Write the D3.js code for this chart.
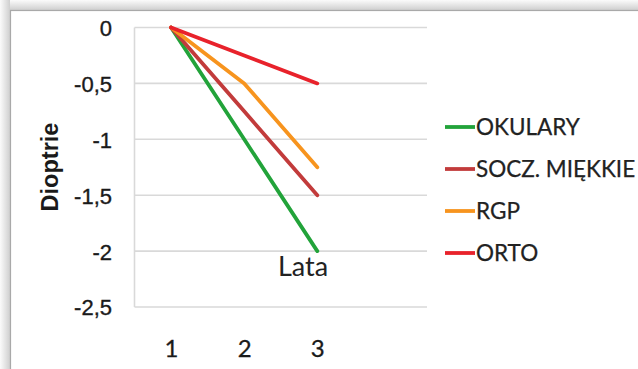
<!DOCTYPE html>
<html>
<head>
<meta charset="utf-8">
<script src="https://cdn.jsdelivr.net/npm/d3@7"></script>
<style>
html,body{margin:0;padding:0;background:#fff;}
svg{display:block;}
</style>
</head>
<body>
<svg id="chart" width="638" height="369"></svg>
<script>
const categories = ["1", "2", "3", ""];
const yTicks = [0, -0.5, -1, -1.5, -2, -2.5];
const seriesNames = ["OKULARY", "SOCZ. MIĘKKIE", "RGP", "ORTO"];
const seriesColors = ["#22a33a", "#c23b3b", "#f7941e", "#e8222b"];
const okulary = [0, -1, -2];
const soczMiekkie = [0, -0.75, -1.5];
const rgp = [0, -0.5, -1.25];
const orto = [0, -0.25, -0.5];
const seriesValues = [okulary, soczMiekkie, rgp, orto];

(function () {
const svg = d3.select("#chart");
const W = 638, H = 369;

// frame shadow
const defs = svg.append("defs");
const gTop = defs.append("linearGradient").attr("id", "shTop").attr("x1", 0).attr("y1", 0).attr("x2", 0).attr("y2", 1);
gTop.append("stop").attr("offset", "0%").attr("stop-color", "#fbfbfb");
gTop.append("stop").attr("offset", "100%").attr("stop-color", "#cfcfcf");
const gLeft = defs.append("linearGradient").attr("id", "shLeft").attr("x1", 0).attr("y1", 0).attr("x2", 1).attr("y2", 0);
gLeft.append("stop").attr("offset", "0%").attr("stop-color", "#fbfbfb");
gLeft.append("stop").attr("offset", "100%").attr("stop-color", "#cfcfcf");
svg.append("rect").attr("x", 0).attr("y", 0).attr("width", W).attr("height", 10).attr("fill", "url(#shTop)");
svg.append("rect").attr("x", 0).attr("y", 0).attr("width", 10).attr("height", H).attr("fill", "url(#shLeft)");
svg.append("rect").attr("x", 10.5).attr("y", 10.5).attr("width", W).attr("height", H).attr("fill", "#fff").attr("stroke", "#a9a9a9").attr("stroke-width", 1.2);

const pL = 134.5, pR = 427, pT = 27.5, pB = 307;
const x = d3.scalePoint().domain(categories.map((c, i) => i)).range([pL, pR]).padding(0.5);
const y = d3.scaleLinear().domain([-2.5, 0]).range([pB, pT]);

// gridlines
svg.append("g").selectAll("line").data(yTicks).join("line")
  .attr("x1", pL).attr("x2", pR)
  .attr("y1", d => y(d)).attr("y2", d => y(d))
  .attr("stroke", "#d9d9d9").attr("stroke-width", 1.6);
svg.append("line").attr("x1", pL).attr("x2", pL).attr("y1", pT).attr("y2", pB)
  .attr("stroke", "#d9d9d9").attr("stroke-width", 1.6);

// y axis labels
const fmt = d => (d === 0 ? "0" : String(d).replace(".", ","));
const yAxis = d3.axisLeft(y).tickValues(yTicks).tickFormat(fmt).tickSize(0).tickPadding(0);
const ya = svg.append("g").attr("transform", `translate(112,0)`).call(yAxis);
ya.select(".domain").remove();
ya.selectAll("text").attr("font-family", "'Liberation Sans', Arial, sans-serif").attr("font-size", 22)
  .attr("fill", "#1a1a1a").attr("stroke", "#1a1a1a").attr("stroke-width", 0.35).attr("dy", "0.36em");

// x axis labels
const xAxis = d3.axisBottom(x).tickFormat(i => categories[i]).tickSize(0).tickPadding(0);
const xa = svg.append("g").attr("transform", `translate(0,348)`).call(xAxis);
xa.select(".domain").remove();
xa.selectAll("text").attr("font-family", "Lato, 'Open Sans', sans-serif").attr("font-size", 24)
  .attr("fill", "#1a1a1a").attr("stroke", "#1a1a1a").attr("stroke-width", 0.3).attr("dy", "0.36em");

// axis title
svg.append("text").attr("transform", "translate(50,167) rotate(-90)")
  .attr("text-anchor", "middle").attr("dy", "0.36em")
  .attr("font-family", "'Liberation Sans', Arial, sans-serif").attr("font-weight", "bold").attr("font-size", 23.5)
  .attr("fill", "#1a1a1a").text("Dioptrie");

// lines
const line = d3.line().x((d, i) => x(i)).y(d => y(d));
svg.append("g").selectAll("path").data(seriesValues).join("path")
  .attr("d", d => line(d)).attr("fill", "none")
  .attr("stroke", (d, i) => seriesColors[i]).attr("stroke-width", 3.8)
  .attr("stroke-linejoin", "round").attr("stroke-linecap", "round");

// "Lata" label
svg.append("text").attr("x", 278).attr("y", 276)
  .attr("font-family", "Lato, 'Open Sans', sans-serif").attr("font-size", 27).attr("fill", "#222").text("Lata");

// legend
const lg = svg.append("g").selectAll("g").data(seriesNames).join("g")
  .attr("transform", (d, i) => `translate(445,${127 + i * 42})`);
lg.append("line").attr("x1", 0).attr("x2", 30).attr("y1", 0).attr("y2", 0)
  .attr("stroke", (d, i) => seriesColors[i]).attr("stroke-width", 3.8);
lg.append("text").attr("x", 31).attr("dy", "0.36em")
  .attr("font-family", "Lato, 'Open Sans', sans-serif").attr("font-size", 22.5)
  .attr("fill", "#222").attr("stroke", "#222").attr("stroke-width", 0.25).text(d => d);
})();
</script>
</body>
</html>
